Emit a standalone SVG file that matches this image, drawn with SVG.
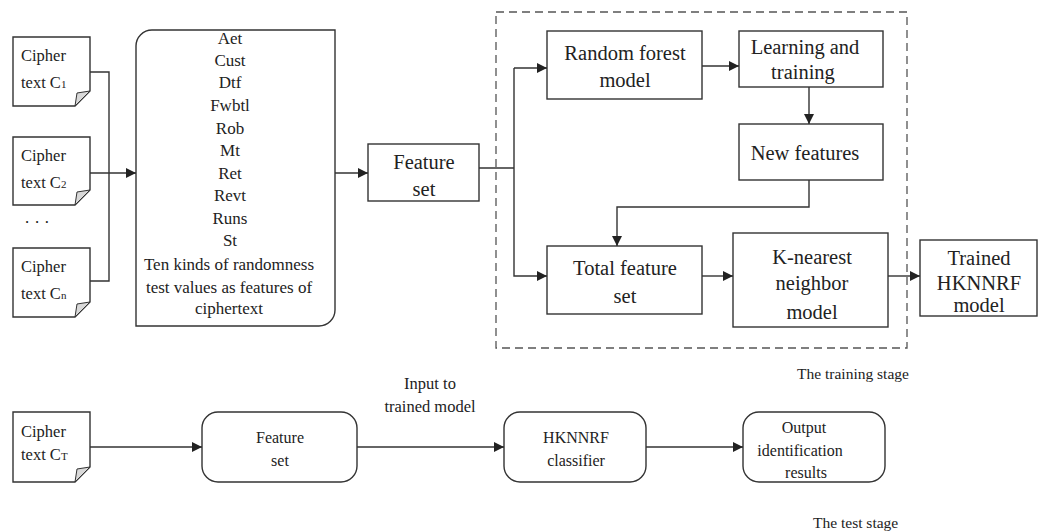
<svg xmlns="http://www.w3.org/2000/svg" width="1047" height="531" viewBox="0 0 1047 531">
  <defs>
    <marker id="arrow" viewBox="0 0 10 10" refX="10" refY="5" markerWidth="10" markerHeight="10" markerUnits="userSpaceOnUse" orient="auto">
      <path d="M0,0 L10,5 L0,10 Z" fill="#222"/>
    </marker>
    <style>
      .box { fill: #fff; stroke: #333; stroke-width: 1.4; }
      .fold { fill: #d9d9d9; stroke: #333; stroke-width: 1; }
      .edge { fill: none; stroke: #333; stroke-width: 1.4; }
      .arr { marker-end: url(#arrow); }
      .dash { fill: none; stroke: #555; stroke-width: 1.3; stroke-dasharray: 8 5; }
      text { fill: #222; }
      .t16 { font-size: 16.5px; }
      .t17 { font-size: 17px; text-anchor: middle; }
      .t20 { font-size: 20.5px; text-anchor: middle; }
      .tb { font-size: 16px; text-anchor: middle; }
      .sub { font-size: 11px; }
    </style>
  </defs>

  <g font-family="Liberation Serif, Times New Roman, serif">

  <!-- training stage container -->
  <rect id="training-stage" class="dash" x="496" y="12" width="411" height="336"/>
  <text x="797" y="379" font-size="15.5">The training stage</text>
  <text x="813" y="528" font-size="15.5">The test stage</text>

  <!-- ciphertext documents -->
  <g id="cipher-c1">
    <path class="box" d="M13,37 H90 V91 L75,106 H13 Z"/>
    <path class="fold" d="M90,91 L75,106 L77,93 Z"/>
    <text class="t16" x="21" y="61">Cipher</text>
    <text class="t16" x="21" y="88">text C<tspan class="sub">1</tspan></text>
  </g>
  <g id="cipher-c2">
    <path class="box" d="M13,137 H90 V190 L75,205 H13 Z"/>
    <path class="fold" d="M90,190 L75,205 L77,192 Z"/>
    <text class="t16" x="21" y="161">Cipher</text>
    <text class="t16" x="21" y="188">text C<tspan class="sub">2</tspan></text>
  </g>
  <text id="ellipsis" x="37" y="228" font-size="17" text-anchor="middle">· · ·</text>
  <g id="cipher-cn">
    <path class="box" d="M13,248 H90 V302 L75,317 H13 Z"/>
    <path class="fold" d="M90,302 L75,317 L77,304 Z"/>
    <text class="t16" x="21" y="272">Cipher</text>
    <text class="t16" x="21" y="299">text C<tspan class="sub">n</tspan></text>
  </g>

  <!-- randomness test features -->
  <g id="randomness-tests">
    <path class="box" d="M136,326 V46 A16,16 0 0 1 152,30 H335 V310 A16,16 0 0 1 319,326 Z"/>
    <text class="t17" x="230" y="44">Aet</text>
    <text class="t17" x="230" y="66">Cust</text>
    <text class="t17" x="230" y="88">Dtf</text>
    <text class="t17" x="230" y="111">Fwbtl</text>
    <text class="t17" x="230" y="134">Rob</text>
    <text class="t17" x="230" y="156">Mt</text>
    <text class="t17" x="230" y="179">Ret</text>
    <text class="t17" x="230" y="201">Revt</text>
    <text class="t17" x="230" y="224">Runs</text>
    <text class="t17" x="230" y="246">St</text>
    <text class="t17" x="229" y="270">Ten kinds of randomness</text>
    <text class="t17" x="229" y="293">test values as features of</text>
    <text class="t17" x="229" y="314">ciphertext</text>
  </g>

  <g id="feature-set">
    <rect class="box" x="368" y="144" width="111" height="57"/>
    <text class="t20" x="424" y="169">Feature</text>
    <text class="t20" x="424" y="196">set</text>
  </g>

  <g id="random-forest">
    <rect class="box" x="547" y="31" width="155" height="68"/>
    <text class="t20" x="625" y="60">Random forest</text>
    <text class="t20" x="625" y="87">model</text>
  </g>

  <g id="learning-training">
    <rect class="box" x="739" y="31" width="144" height="56"/>
    <text class="t20" x="805" y="54">Learning and</text>
    <text class="t20" x="803" y="79">training</text>
  </g>

  <g id="new-features">
    <rect class="box" x="739" y="124" width="144" height="56"/>
    <text class="t20" x="805" y="160">New features</text>
  </g>

  <g id="total-feature-set">
    <rect class="box" x="547" y="246" width="155" height="68"/>
    <text class="t20" x="625" y="275">Total feature</text>
    <text class="t20" x="625" y="303">set</text>
  </g>

  <g id="knn-model">
    <rect class="box" x="733" y="233" width="155" height="94"/>
    <text class="t20" x="812" y="264">K-nearest</text>
    <text class="t20" x="812" y="290">neighbor</text>
    <text class="t20" x="812" y="319">model</text>
  </g>

  <g id="trained-model">
    <rect class="box" x="920" y="240" width="117" height="76"/>
    <text class="t20" x="979" y="265">Trained</text>
    <text class="t20" x="979" y="290">HKNNRF</text>
    <text class="t20" x="979" y="312">model</text>
  </g>

  <!-- test stage -->
  <g id="cipher-ct">
    <path class="box" d="M13,412 H90 V467 L75,482 H13 Z"/>
    <path class="fold" d="M90,467 L75,482 L77,469 Z"/>
    <text class="t16" x="21" y="437">Cipher</text>
    <text class="t16" x="21" y="460">text C<tspan class="sub">T</tspan></text>
  </g>

  <g id="test-feature-set">
    <rect class="box" x="202" y="412" width="155" height="70" rx="16"/>
    <text class="tb" x="280" y="443">Feature</text>
    <text class="tb" x="280" y="466">set</text>
  </g>

  <g id="hknnrf-classifier">
    <rect class="box" x="504" y="412" width="142" height="70" rx="16"/>
    <text class="tb" x="576" y="443">HKNNRF</text>
    <text class="tb" x="576" y="466">classifier</text>
  </g>

  <g id="output-results">
    <rect class="box" x="743" y="412" width="142" height="70" rx="16"/>
    <text class="tb" x="804" y="433">Output</text>
    <text class="tb" x="800" y="456">identification</text>
    <text class="tb" x="806" y="478">results</text>
  </g>

  <text x="430" y="389" font-size="16.5" text-anchor="middle">Input to</text>
  <text x="430" y="412" font-size="16.5" text-anchor="middle">trained model</text>

  </g>

  <g id="connectors">
    <path class="edge" d="M90,72 H109 V281 H90"/>
    <path class="edge arr" d="M90,173 H136"/>
    <path class="edge arr" d="M335,173 H368"/>
    <path class="edge" d="M479,168 H514"/>
    <path class="edge arr" d="M514,68 H547"/>
    <path class="edge arr" d="M514,68 V276 H547"/>
    <path class="edge arr" d="M702,66 H739"/>
    <path class="edge arr" d="M809,87 V124"/>
    <path class="edge arr" d="M809,180 V207 H617 V246"/>
    <path class="edge arr" d="M702,276 H733"/>
    <path class="edge arr" d="M888,276 H920"/>
    <path class="edge arr" d="M90,447 H202"/>
    <path class="edge arr" d="M357,447 H504"/>
    <path class="edge arr" d="M646,447 H743"/>
  </g>
</svg>
